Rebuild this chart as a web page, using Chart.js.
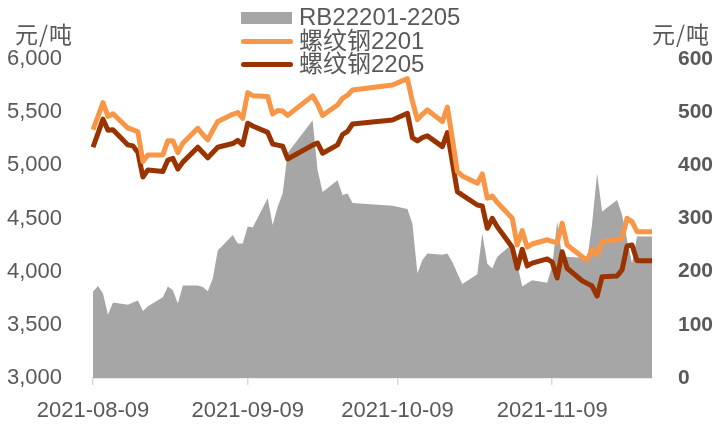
<!DOCTYPE html>
<html>
<head>
<meta charset="utf-8">
<script src="https://cdn.jsdelivr.net/npm/chart.js@4.4.1/dist/chart.umd.min.js"></script>
<style>
  body { margin: 0; background: #fff; }
  #wrap { position: relative; width: 713px; height: 425px; font-family: "Liberation Sans", "Noto Sans CJK SC", sans-serif; color: #595959; }
  .unit { position: absolute; top: 19px; font-family: "Noto Sans CJK SC", sans-serif; font-size: 23px; line-height: 28px; letter-spacing: 1px; white-space: nowrap; }
  .leg { position: absolute; left: 240px; height: 24px; width: 260px; font-size: 24px; line-height: 24px; }
  .leg span.mark { position: absolute; left: 0; }
  .leg span.txt { position: absolute; left: 59px; top: 0; white-space: nowrap; }
</style>
</head>
<body>
<div id="wrap">
  <canvas id="line-chartcanvas" width="713" height="425"></canvas>
  <div class="unit" style="left:15px">元/吨</div>
  <div class="unit" style="left:652px">元/吨</div>
  <div id="legend"></div>
</div>
<script>
// trading days (2021)
var tradeDays = [
  '08-09','08-10','08-11','08-12','08-13','08-16','08-17','08-18','08-19','08-20',
  '08-23','08-24','08-25','08-26','08-27','08-30','08-31','09-01','09-02','09-03',
  '09-06','09-07','09-08','09-09','09-10','09-13','09-14','09-15','09-16','09-17',
  '09-22','09-23','09-24','09-27','09-28','09-29','09-30','10-08','10-11','10-12',
  '10-13','10-14','10-15','10-18','10-19','10-20','10-21','10-22','10-25','10-26',
  '10-27','10-28','10-29','11-01','11-02','11-03','11-04','11-05','11-08','11-09',
  '11-10','11-11','11-12','11-15','11-16','11-17','11-18','11-19','11-22','11-23',
  '11-24','11-25','11-26','11-29'
];

var rb2201 = [
  5335,5460,5590,5460,5485,5350,5335,5315,5035,5098,
  5098,5232,5232,5120,5207,5348,5290,5239,5330,5413,
  5480,5497,5442,5684,5655,5647,5483,5515,5510,5470,
  5653,5575,5470,5568,5630,5660,5709,5756,5815,5600,
  5430,5480,5521,5411,5547,5250,4941,4900,4832,4919,
  4690,4712,4650,4502,4251,4386,4230,4260,4300,4285,
  4270,4455,4251,4140,4110,4211,4157,4282,4300,4314,
  4502,4470,4376,4376
];

var rb2205 = [
  5170,5300,5434,5330,5335,5192,5183,5120,4890,4957,
  4941,5050,5065,4965,5030,5170,5120,5070,5120,5170,
  5205,5235,5192,5396,5370,5310,5201,5190,5180,5060,
  5190,5210,5114,5192,5290,5320,5389,5427,5490,5260,
  5230,5260,5277,5176,5308,5030,4753,4720,4627,4618,
  4408,4502,4423,4230,4032,4210,4054,4080,4120,4090,
  3940,4188,4032,3915,3890,3865,3771,3953,3960,4016,
  4242,4251,4103,4103
];

var spread = [
  162,173,159,119,142,138,142,146,126,135,
  152,172,165,140,174,174,171,163,187,240,
  269,253,253,285,283,338,288,322,347,423,
  485,391,350,372,344,347,329,324,318,290,
  197,222,234,232,234,218,197,177,195,272,
  215,206,228,252,215,172,178,184,179,210,
  294,228,228,226,222,290,385,313,335,307,
  260,216,266,266
];

var xTickLabels = ['2021-08-09', '2021-09-09', '2021-10-09', '2021-11-09'];

var seriesNames = ['RB22201-2205', '螺纹钢2201', '螺纹钢2205'];
var seriesColors = ['#a6a6a6', '#f79646', '#993300'];

// calendar axis: one slot per day, gaps spanned
var labels = [];
var days = tradeDays.map(function(d) { return '2021-' + d; });
for (var t = Date.UTC(2021, 7, 9); t <= Date.UTC(2021, 10, 29); t += 86400000) {
  labels.push(new Date(t).toISOString().slice(0, 10));
}
function onCalendar(values) {
  return labels.map(function(l) {
    var i = days.indexOf(l);
    return i < 0 ? null : values[i];
  });
}

// legend
var legend = document.getElementById('legend');
var rowTops = [5, 29, 52];
seriesNames.forEach(function(name, i) {
  var row = document.createElement('div');
  row.className = 'leg';
  row.style.top = rowTops[i] + 'px';
  var mark = i === 0
    ? '<span class="mark" style="left:1px;top:7px;width:51px;height:12px;background:' + seriesColors[i] + '"></span>'
    : '<span class="mark" style="left:1px;top:10px;width:52px;height:5px;border-radius:3px;background:' + seriesColors[i] + '"></span>';
  row.innerHTML = mark + '<span class="txt">' + name + '</span>';
  legend.appendChild(row);
});

var ctx = document.getElementById('line-chartcanvas');

var data1 = {
  labels: labels,
  datasets: [
    {
      label: seriesNames[1],
      data: onCalendar(rb2201),
      yAxisID: 'y',
      borderColor: seriesColors[1],
      borderWidth: 5,
      borderJoinStyle: 'round',
      fill: false,
      tension: 0,
      pointRadius: 0,
      spanGaps: true,
      order: 1
    },
    {
      label: seriesNames[2],
      data: onCalendar(rb2205),
      yAxisID: 'y',
      borderColor: seriesColors[2],
      borderWidth: 5,
      borderJoinStyle: 'round',
      fill: false,
      tension: 0,
      pointRadius: 0,
      spanGaps: true,
      order: 2
    },
    {
      label: seriesNames[0],
      data: onCalendar(spread),
      yAxisID: 'y1',
      backgroundColor: seriesColors[0],
      borderWidth: 0,
      fill: 'start',
      tension: 0,
      pointRadius: 0,
      spanGaps: true,
      order: 3
    }
  ]
};

var tickFont = { family: 'Liberation Sans', size: 22 };

var options = {
  responsive: false,
  animation: false,
  devicePixelRatio: 1,
  layout: { padding: { top: 59, left: 0, right: 0, bottom: 0 } },
  plugins: { legend: { display: false }, tooltip: { enabled: false } },
  scales: {
    x: {
      type: 'category',
      offset: false,
      afterFit: function(s) { s.height = 47; },
      border: { display: true, color: '#d9d9d9', width: 1.5 },
      grid: {
        drawOnChartArea: false,
        tickLength: 7,
        lineWidth: 1.5,
        color: function(c) {
          return c.tick && xTickLabels.indexOf(labels[c.index]) >= 0 ? '#d9d9d9' : 'rgba(0,0,0,0)';
        }
      },
      ticks: {
        autoSkip: false,
        maxRotation: 0,
        padding: 13,
        color: '#595959',
        font: tickFont,
        callback: function(v, i) {
          return xTickLabels.indexOf(labels[i]) >= 0 ? labels[i] : '';
        }
      }
    },
    y: {
      position: 'left',
      min: 3000,
      max: 6000,
      afterFit: function(s) { s.width = 93; },
      border: { display: false },
      grid: { display: false, drawTicks: false },
      ticks: { stepSize: 500, padding: 31, color: '#595959', font: tickFont }
    },
    y1: {
      position: 'right',
      min: 0,
      max: 600,
      afterFit: function(s) { s.width = 61; },
      border: { display: false },
      grid: { display: false, drawTicks: false },
      ticks: { stepSize: 100, padding: 26, color: '#595959', font: { family: 'Liberation Sans', size: 21, weight: 'bold' } }
    }
  }
};

var chart = new Chart(ctx, {
  type: 'line',
  data: data1,
  options: options
});
</script>
</body>
</html>
